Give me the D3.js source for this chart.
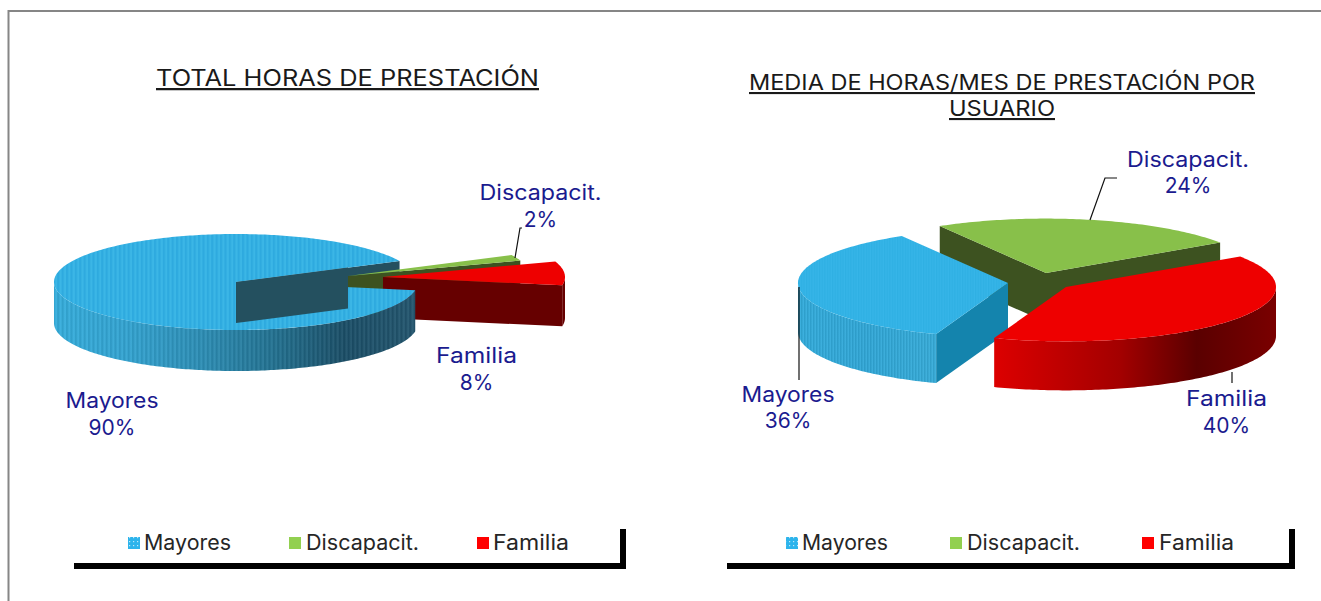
<!DOCTYPE html>
<html><head><meta charset="utf-8">
<script src="https://cdn.jsdelivr.net/npm/d3@7"></script>
<style>html,body{margin:0;padding:0;background:#fff;overflow:hidden}svg{display:block}text{font-family:Inter,"Open Sans",sans-serif}</style>
</head><body><svg id="c" width="1321" height="601"></svg>
<script>
const categories = ["Mayores", "Discapacit.", "Familia"];
const totalHoras = [90, 2, 8];
const mediaHoras = [36, 24, 40];
const tituloTotal = ["TOTAL HORAS DE PRESTACIÓN"];
const tituloMedia = ["MEDIA DE HORAS/MES DE PRESTACIÓN POR", "USUARIO"];

const RAD = Math.PI / 180;
const svg = d3.select("#c");
const defs = svg.append("defs");
svg.append("path").attr("d", "M1321 11H8.5V601").attr("fill", "none").attr("stroke", "#868686").attr("stroke-width", 2);

function stripes(id, w, a, b) {
  const p = defs.append("pattern").attr("id", id).attr("patternUnits", "userSpaceOnUse").attr("width", w).attr("height", 8);
  p.append("rect").attr("width", w).attr("height", 8).attr("fill", a);
  p.append("rect").attr("width", w / 2).attr("height", 8).attr("fill", b);
}
stripes("blueL", 4.4, "#3bb6e6", "#2eaadf");
stripes("blueR", 2.6, "#36b5e8", "#2fb0e3");
function overlay(id, w) {
  const p = defs.append("pattern").attr("id", id).attr("patternUnits", "userSpaceOnUse").attr("width", w).attr("height", 8);
  p.append("rect").attr("width", w / 2).attr("height", 8).attr("fill", "#000").attr("fill-opacity", .07);
  p.append("rect").attr("x", w / 2).attr("width", w / 2).attr("height", 8).attr("fill", "#fff").attr("fill-opacity", .05);
}
overlay("ovL", 4.4);
overlay("ovR", 3);
const dots = defs.append("pattern").attr("id", "blueDots").attr("patternUnits", "userSpaceOnUse").attr("width", 4).attr("height", 4);
dots.append("rect").attr("width", 4).attr("height", 4).attr("fill", "#2db4ec");
dots.append("rect").attr("x", 1).attr("y", 1).attr("width", 1.2).attr("height", 1.2).attr("fill", "#bfe8f9");

function gradient(id, x0, x1, stops) {
  const g = defs.append("linearGradient").attr("id", id).attr("gradientUnits", "userSpaceOnUse")
    .attr("x1", x0).attr("x2", x1).attr("y1", 0).attr("y2", 0);
  stops.forEach(([o, c]) => g.append("stop").attr("offset", o).attr("stop-color", c));
}
const line = d3.line();

function makePie(cfg, values) {
  const arcs = d3.pie().sort(null).value(d => d)
    .startAngle(cfg.start * RAD).endAngle(cfg.start * RAD + 2 * Math.PI)(values);
  const g = svg.append("g");
  const pt = (i, a, r = 1, dz = 0) => {
    const c = cfg.apex[i];
    return [c[0] + r * cfg.rx * Math.sin(a), c[1] - r * cfg.ry * Math.cos(a) + dz];
  };
  const samples = (i, a0, a1, dz = 0) => {
    const n = Math.max(2, Math.ceil(Math.abs(a1 - a0) / RAD));
    return d3.range(n + 1).map(k => pt(i, a0 + (a1 - a0) * k / n, 1, dz));
  };
  return {
    g,
    top(i, fill) {
      g.append("path").attr("d", line([cfg.apex[i], ...samples(i, arcs[i].startAngle, arcs[i].endAngle)]) + "Z").attr("fill", fill);
    },
    side(i, ...fills) {
      const a0 = arcs[i].startAngle, a1 = arcs[i].endAngle;
      let lo = Math.max(a0, Math.PI / 2), hi = Math.min(a1, 3 * Math.PI / 2);
      if (hi <= lo) { lo = Math.max(a0, 2.5 * Math.PI); hi = Math.min(a1, 3.5 * Math.PI); }
      if (hi <= lo) return;
      const up = samples(i, lo, hi), dn = samples(i, hi, lo, cfg.h);
      fills.forEach(f => g.append("path").attr("d", line([...up, ...dn]) + "Z").attr("fill", f));
    },
    wall(i, which, fill, clipId) {
      const a = which === "start" ? arcs[i].startAngle : arcs[i].endAngle;
      const o = cfg.apex[i], e = pt(i, a);
      const p = g.append("path").attr("d", line([o, e, [e[0], e[1] + cfg.h], [o[0], o[1] + cfg.h]]) + "Z").attr("fill", fill);
      if (clipId) p.attr("clip-path", `url(#${clipId})`);
    }
  };
}

/* left pie */
const L = { start: 100, rx: 182, ry: 48, h: 41, apex: [[236, 282], [348, 276], [383, 277]] };
gradient("sideL", 54, 416, [[0, "#35aedd"], [.2, "#33a4d2"], [.42, "#2c8db4"], [.62, "#22708f"], [.8, "#1b4f68"], [1, "#23566f"]]);
defs.append("clipPath").attr("id", "wallClip").append("rect").attr("x", 0).attr("y", 0).attr("width", L.apex[1][0]).attr("height", 601);
const pl = makePie(L, totalHoras);
pl.wall(0, "end", "#24505f");
pl.wall(1, "end", "#3d5220");
pl.wall(2, "end", "#660000");
pl.side(0, "url(#sideL)", "url(#ovL)");
pl.side(2, "#660000");
pl.top(0, "url(#blueL)");
pl.wall(0, "end", "#24505f", "wallClip");
pl.top(1, "#88c04a");
pl.top(2, "#ee0000");

/* right pie */
const R = { start: 200, rx: 210, ry: 54.4, h: 49, apex: [[1008, 283], [1046, 273], [1066, 287]] };
gradient("sideB", 798, 936, [[0, "#32acdc"], [.5, "#30a8d8"], [1, "#36acd9"]]);
gradient("sideR", 993, 1276, [[0, "#dd0000"], [.45, "#a30000"], [.72, "#5a0000"], [1, "#7a0000"]]);
const pr = makePie(R, mediaHoras);
pr.wall(1, "start", "#3d5220");
pr.wall(1, "end", "#3d5220");
pr.top(1, "#88c04a");
pr.side(0, "url(#sideB)", "url(#ovR)");
pr.wall(0, "start", "#1484ad");
pr.top(0, "url(#blueR)");
pr.side(2, "url(#sideR)");
pr.top(2, "#ee0000");

/* leader lines */
[[[515, 258], [520, 228], [522, 228]], [[1090, 220], [1105, 178], [1117, 178]],
 [[1232, 372], [1232, 383]], [[799, 287], [799, 380]]].forEach(p =>
  svg.append("path").attr("d", line(p)).attr("fill", "none").attr("stroke", "#111").attr("stroke-width", 1.2));

/* text */
function txt(s, x, y, size, color, len) {
  const t = svg.append("text").attr("x", x).attr("y", y).attr("font-size", size).attr("fill", color).text(s);
  if (len) t.attr("textLength", len).attr("lengthAdjust", "spacingAndGlyphs");
  return t;
}
const titleC = "#1a1a1a", labelC = "#1b1b8f", legC = "#262626";
tituloTotal.forEach(s => txt(s, 156, 86, 22.5, titleC, 383).attr("text-decoration", "underline"));
txt(tituloMedia[0], 749, 90, 21, titleC, 506).attr("text-decoration", "underline");
txt(tituloMedia[1], 949, 116, 21, titleC, 106).attr("text-decoration", "underline");

const labels = [
  [categories[1], totalHoras[1], 479.5, 122, 200, 227],
  [categories[2], totalHoras[2], 436, 81, 363, 390],
  [categories[0], totalHoras[0], 65.5, 93, 408, 435],
  [categories[1], mediaHoras[1], 1127, 122, 167, 193],
  [categories[2], mediaHoras[2], 1186, 81, 406, 433],
  [categories[0], mediaHoras[0], 741.5, 93, 402, 428]
];
labels.forEach(([c, v, x, w, y1, y2]) => {
  txt(c, x, y1, 21, labelC, w);
  txt(v + "%", x + w / 2, y2, 21, labelC).attr("text-anchor", "middle");
});

/* legends */
const legendFills = ["url(#blueDots)", "#92d050", "#ff0000"];
function legend(x0, x1, items) {
  svg.append("path").attr("d", `M${x0} 566H${x1 - 3}V529`).attr("fill", "none").attr("stroke", "#000").attr("stroke-width", 6);
  items.forEach((it, i) => {
    svg.append("rect").attr("x", it[0]).attr("y", 537).attr("width", 12).attr("height", 12).attr("fill", legendFills[i]);
    txt(categories[i], it[1], 550, 21, legC, it[2]);
  });
}
legend(74, 626, [[128, 144, 87], [289, 306, 113], [477, 493, 76]]);
legend(727, 1295, [[786, 802, 86], [950, 967, 113], [1142, 1159, 75]]);
</script></body></html>
